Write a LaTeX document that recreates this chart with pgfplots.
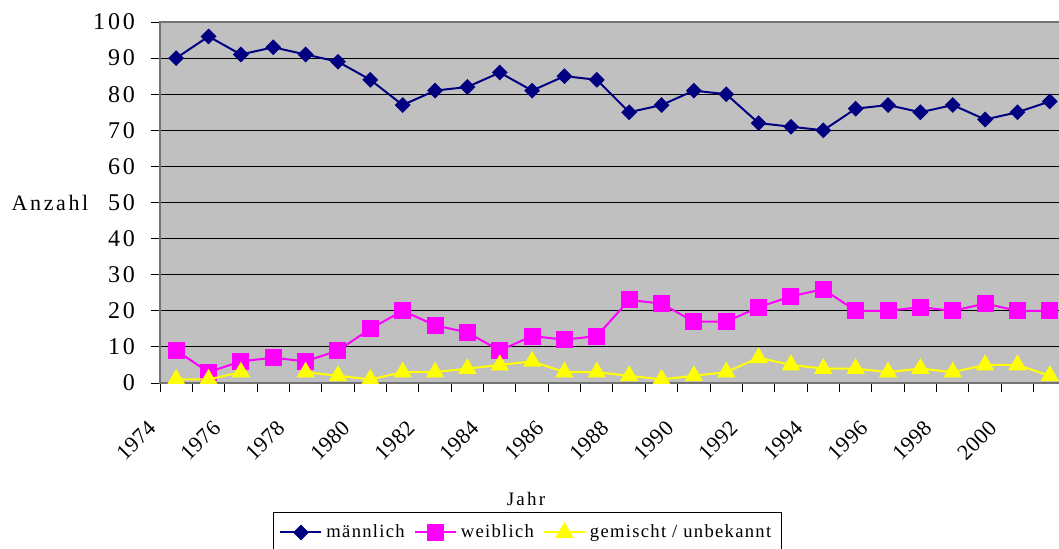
\documentclass[border=0pt]{standalone}
\usepackage{fontspec}
\setmainfont{Liberation Serif}[LetterSpace=12]
\newfontfamily\legfont{Liberation Serif}[LetterSpace=7]
\newfontfamily\tickfont{Liberation Serif}[LetterSpace=2]
\usepackage{pgfplots}
\usepackage{pgfplotstable}
\pgfplotsset{compat=1.18}
\definecolor{navyc}{HTML}{000080}
\definecolor{magc}{HTML}{FF00FF}
\definecolor{yelc}{HTML}{FFFF00}
\definecolor{bgc}{HTML}{C0C0C0}
\pgfplotstableread{
year m w g
1974 90 9 1
1975 96 3 1
1976 91 6 3
1977 93 7 nan
1978 91 6 3
1979 89 9 2
1980 84 15 1
1981 77 20 3
1982 81 16 3
1983 82 14 4
1984 86 9 5
1985 81 13 6
1986 85 12 3
1987 84 13 3
1988 75 23 2
1989 77 22 1
1990 81 17 2
1991 80 17 3
1992 72 21 7
1993 71 24 5
1994 70 26 4
1995 76 20 4
1996 77 20 3
1997 75 21 4
1998 77 20 3
1999 73 22 5
2000 75 20 5
2001 78 20 2
}\data
\begin{document}
\begin{tikzpicture}
\useasboundingbox (0,0) rectangle (529.5pt,-274pt);
\clip (0,0) rectangle (529.5pt,-274pt);
\begin{axis}[
 at={(80pt,-191.5pt)}, anchor=south west,
 scale only axis, width=453pt, height=180.5pt,
 xmin=1973.5, xmax=2001.5, ymin=0, ymax=100,
 axis background/.style={fill=bgc},
 axis line style={draw=black!55, line width=1pt},
 ytick={0,10,...,100},
 ymajorgrids, grid style={black, line width=0.5pt},
 xtick={1973.5,1974.5,...,2001.5},
 xticklabels={1974,,1976,,1978,,1980,,1982,,1984,,1986,,1988,,1990,,1992,,1994,,1996,,1998,,2000,,},
 tick pos=left, tick align=outside, major tick length=4.5pt,
 tick style={black, line width=0.5pt},
 x tick label style={rotate=45, anchor=east, xshift=-10.76pt, yshift=-8.66pt, font=\tickfont\fontsize{11}{13}\selectfont},
 y tick label style={font=\fontsize{12}{14}\selectfont, xshift=-4.5pt},
 /pgf/number format/assume math mode=true,
 ylabel={Anzahl},
 ylabel style={rotate=-90, at={(axis description cs:-0.1214,0.5)}, anchor=center, font=\fontsize{11}{13}\selectfont},
 xlabel={Jahr},
 xlabel style={at={(axis description cs:0.404,-0.321)}, anchor=center, font=\fontsize{9.5}{12}\selectfont},
 unbounded coords=jump,
 clip marker paths=true,
 legend columns=3,
 legend image code/.code={\draw[mark repeat=2,mark phase=2,#1] plot coordinates {(0pt,0pt) (10.25pt,0pt) (20.5pt,0pt)};},
 legend style={at={(axis description cs:0.1247,-0.3573)}, anchor=north west, draw=black, line width=0.5pt, fill=white,
   font=\legfont\fontsize{9.3}{11}\selectfont, inner xsep=3pt, inner ysep=4pt,
   /tikz/every even column/.append style={column sep=2.5pt}},
]
\addplot[navyc, line width=1pt, mark=square*, mark size=2.3pt, mark options={solid, fill=navyc, rotate=45}] table[x=year, y=m] {\data};
\addlegendentry{männlich}
\addplot[magc, line width=1pt, mark=square*, mark size=3.75pt, mark options={solid, fill=magc}] table[x=year, y=w] {\data};
\addlegendentry{weiblich}
\addplot[yelc, line width=1pt, mark=triangle*, mark size=4.3pt, mark options={solid, fill=yelc}] table[x=year, y=g] {\data};
\addlegendentry{gemischt / unbekannt}
\end{axis}
\end{tikzpicture}
\end{document}
